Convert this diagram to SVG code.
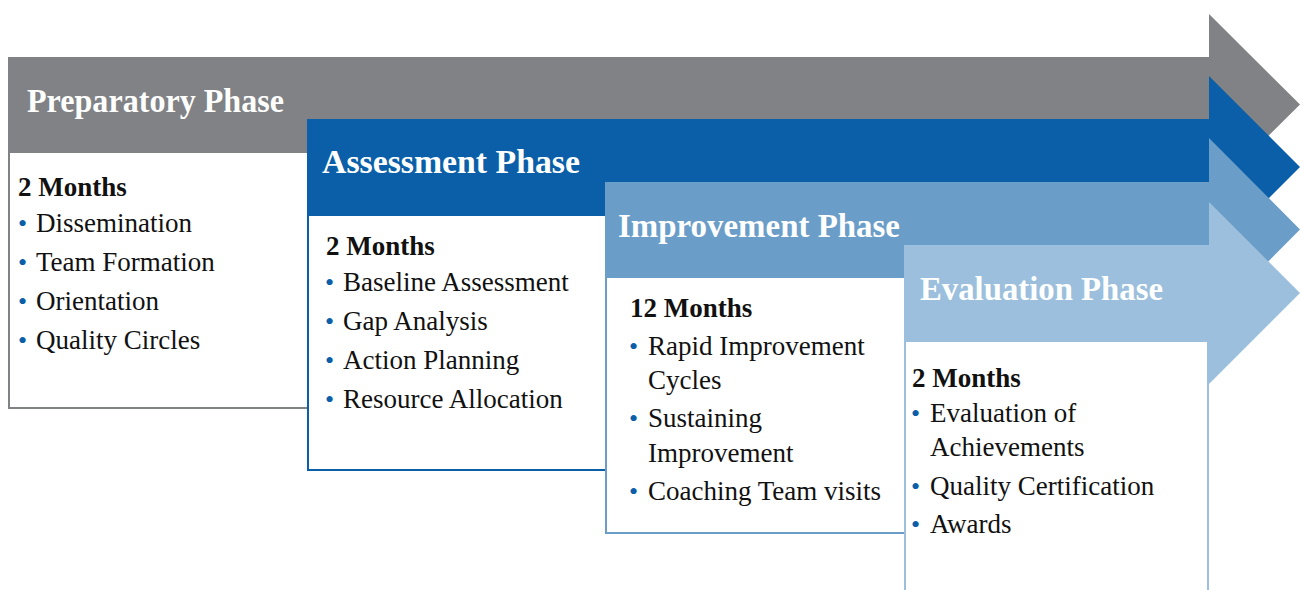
<svg xmlns="http://www.w3.org/2000/svg" width="1302" height="590" viewBox="0 0 1302 590">
<style>
.title{font-family:"Liberation Serif","Times New Roman",serif;font-weight:bold;font-size:33px;fill:#ffffff}
.dur{font-family:"Liberation Serif","Times New Roman",serif;font-weight:bold;font-size:27px;fill:#111111}
.item{font-family:"Liberation Serif","Times New Roman",serif;font-size:27px;fill:#111111}
.dot{fill:#0a5fa8;font-size:26px}
.box{fill:#ffffff;stroke-width:2}
</style>
<rect width="1302" height="590" fill="#ffffff"/>
<g id="preparatory">
<polygon points="8,57 1209,57 1209,14 1300,104.5 1209,195 1209,152 8,152" fill="#808285"/>
<rect class="box" x="9" y="152" width="299" height="256" stroke="#808285"/>
<text class="title" x="27" y="112" textLength="257" lengthAdjust="spacingAndGlyphs">Preparatory Phase</text>
<text class="dur" x="18" y="196">2 Months</text>
<text class="item" y="232"><tspan class="dot" x="18">•</tspan><tspan x="36">Dissemination</tspan></text>
<text class="item" y="271"><tspan class="dot" x="18">•</tspan><tspan x="36">Team Formation</tspan></text>
<text class="item" y="310"><tspan class="dot" x="18">•</tspan><tspan x="36">Orientation</tspan></text>
<text class="item" y="349"><tspan class="dot" x="18">•</tspan><tspan x="36">Quality Circles</tspan></text>
</g>
<g id="assessment">
<polygon points="307,119 1209,119 1209,76 1300,167 1209,258 1209,215 307,215" fill="#0a5fa8"/>
<rect class="box" x="308" y="215" width="298" height="255" stroke="#0a5fa8"/>
<text class="title" x="322" y="173" textLength="258" lengthAdjust="spacingAndGlyphs">Assessment Phase</text>
<text class="dur" x="326" y="255">2 Months</text>
<text class="item" y="291"><tspan class="dot" x="325">•</tspan><tspan x="343">Baseline Assessment</tspan></text>
<text class="item" y="330"><tspan class="dot" x="325">•</tspan><tspan x="343">Gap Analysis</tspan></text>
<text class="item" y="369"><tspan class="dot" x="325">•</tspan><tspan x="343">Action Planning</tspan></text>
<text class="item" y="408"><tspan class="dot" x="325">•</tspan><tspan x="343">Resource Allocation</tspan></text>
</g>
<g id="improvement">
<polygon points="605,182 1209,182 1209,138 1300,229.5 1209,321 1209,277 605,277" fill="#6a9dc8"/>
<rect class="box" x="606" y="277" width="299" height="256" stroke="#6a9dc8"/>
<text class="title" x="618" y="237" textLength="282" lengthAdjust="spacingAndGlyphs">Improvement Phase</text>
<text class="dur" x="630" y="317">12 Months</text>
<text class="item" y="355"><tspan class="dot" x="629">•</tspan><tspan x="648">Rapid Improvement</tspan></text>
<text class="item" x="648" y="389">Cycles</text>
<text class="item" y="427"><tspan class="dot" x="629">•</tspan><tspan x="648">Sustaining</tspan></text>
<text class="item" x="648" y="462">Improvement</text>
<text class="item" y="500"><tspan class="dot" x="629">•</tspan><tspan x="648">Coaching Team visits</tspan></text>
</g>
<g id="evaluation">
<polygon points="904,245 1209,245 1209,202 1300,293 1209,384 1209,341 904,341" fill="#9bbfdc"/>
<rect class="box" x="905" y="341" width="303" height="260" stroke="#9bbfdc"/>
<text class="title" x="920" y="300" textLength="243" lengthAdjust="spacingAndGlyphs">Evaluation Phase</text>
<text class="dur" x="912" y="387">2 Months</text>
<text class="item" y="422"><tspan class="dot" x="911">•</tspan><tspan x="930">Evaluation of</tspan></text>
<text class="item" x="930" y="456">Achievements</text>
<text class="item" y="495"><tspan class="dot" x="911">•</tspan><tspan x="930">Quality Certification</tspan></text>
<text class="item" y="533"><tspan class="dot" x="911">•</tspan><tspan x="930">Awards</tspan></text>
</g>
<g id="connectors"></g>
</svg>
